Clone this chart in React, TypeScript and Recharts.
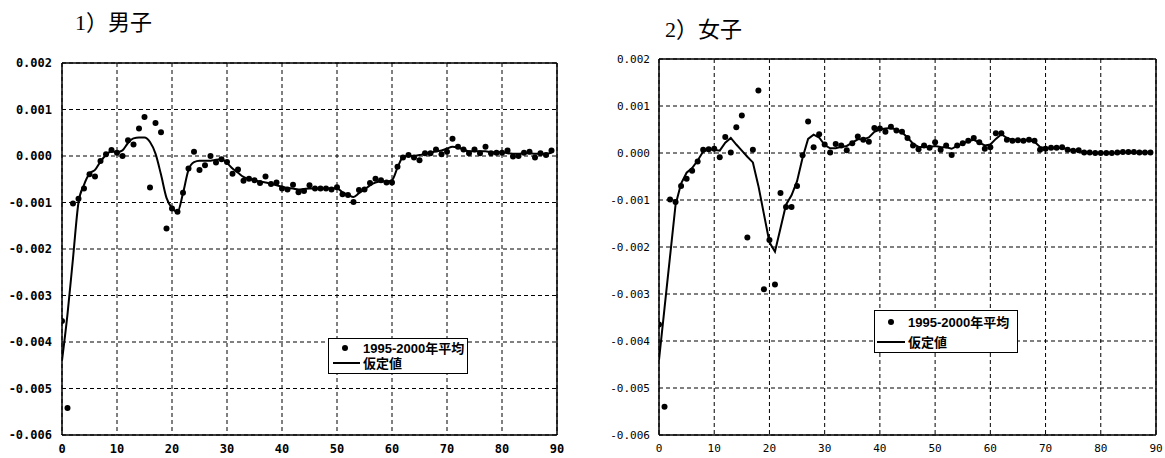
import React from 'react';
import {
  ComposedChart,
  Line,
  Scatter,
  XAxis,
  YAxis,
  CartesianGrid,
  ReferenceLine,
  Legend,
} from 'recharts';

const ages = [
  0, 1, 2, 3, 4, 5, 6, 7, 8, 9, 10, 11, 12, 13, 14, 15, 16, 17, 18, 19,
  20, 21, 22, 23, 24, 25, 26, 27, 28, 29, 30, 31, 32, 33, 34, 35, 36, 37, 38, 39,
  40, 41, 42, 43, 44, 45, 46, 47, 48, 49, 50, 51, 52, 53, 54, 55, 56, 57, 58, 59,
  60, 61, 62, 63, 64, 65, 66, 67, 68, 69, 70, 71, 72, 73, 74, 75, 76, 77, 78, 79,
  80, 81, 82, 83, 84, 85, 86, 87, 88, 89,
];

const maleDots = [
  -0.00355, -0.00542, -0.00102, -0.00092, -0.0007, -0.00039, -0.00044, -0.00011, 0.00004, 0.00013,
  0.00007, 0.0, 0.00034, 0.00025, 0.00059, 0.00084, -0.00068, 0.00071, 0.00051, -0.00156,
  -0.00113, -0.0012, -0.00079, -0.00027, 0.00009, -0.0003, -0.0002, 0.0, -0.00014, -0.00007,
  -0.00013, -0.00038, -0.00029, -0.00053, -0.00049, -0.00052, -0.00058, -0.00044, -0.0006, -0.00057,
  -0.0007, -0.00072, -0.00062, -0.00078, -0.00075, -0.00063, -0.0007, -0.0007, -0.0007, -0.00072,
  -0.00067, -0.00082, -0.00084, -0.00099, -0.00073, -0.00072, -0.00058, -0.00049, -0.00052, -0.00057,
  -0.00057, -0.00023, -0.00003, 0.00002, -0.00003, -0.00009, 0.00006, 0.00006, 0.00014, 0.00004,
  0.00009, 0.00037, 0.0002, 0.00014, 0.00006, 0.00014, 0.00006, 0.0002, 0.00006, 0.00007,
  0.00007, 0.00012, -0.00001, 0.0, 0.00007, 0.00009, -0.00003, 0.00006, 0.00002, 0.00012,
];

const maleLine = [
  -0.0044, -0.0034, -0.0022, -0.001, -0.00062, -0.00038, -0.0003, -0.00012, 0.00002, 0.0001,
  0.00008, 0.00012, 0.00028, 0.00038, 0.0004, 0.0004, 0.0003, 0.00005, -0.0004, -0.0009,
  -0.00112, -0.0012, -0.0008, -0.0003, -0.00013, -0.0001, -0.0001, -0.0001, -0.00008, -0.00007,
  -0.00015, -0.00027, -0.00036, -0.00045, -0.0005, -0.00052, -0.00055, -0.00057, -0.0006, -0.00063,
  -0.00066, -0.00069, -0.0007, -0.00072, -0.00071, -0.0007, -0.0007, -0.0007, -0.0007, -0.0007,
  -0.0007, -0.00078, -0.00083, -0.00088, -0.0008, -0.00072, -0.00063, -0.00057, -0.00055, -0.00055,
  -0.00052, -0.00025, -0.00002, 0.0, 0.0, 0.00002, 0.00005, 0.00007, 0.0001, 0.00012,
  0.00016, 0.0002, 0.00018, 0.00014, 0.0001, 0.0001, 0.0001, 0.0001, 0.00008, 0.00008,
  0.00008, 0.00006, 0.00005, 0.00005, 0.00006, 0.00006, 0.00005, 0.00005, 0.00005, 0.00007,
];

const femaleDots = [
  -0.00365, -0.0054, -0.00099, -0.00104, -0.0007, -0.00055, -0.00038, -0.00018, 0.00007, 0.00008,
  0.00009, -0.00009, 0.00034, 0.00001, 0.00055, 0.0008, -0.0018, 0.00007, 0.00133, -0.0029,
  -0.00185, -0.0028, -0.00085, -0.00115, -0.00115, -0.0007, -0.00005, 0.00067, 0.00012, 0.0004,
  0.00018, 0.00001, 0.00019, 0.00016, 0.00006, 0.00021, 0.00035, 0.00028, 0.00024, 0.00053,
  0.00052, 0.00045, 0.00056, 0.00048, 0.00045, 0.00032, 0.00016, 0.00008, 0.00016, 0.00011,
  0.00023, 0.00007, 0.00016, -0.00004, 0.00016, 0.00021, 0.00026, 0.00032, 0.00023, 0.00009,
  0.00012, 0.00042, 0.00042, 0.00028, 0.00026, 0.00027, 0.00026, 0.00028, 0.00026, 0.00007,
  0.00009, 0.00011, 0.00011, 0.00012, 0.00007, 0.00005, 0.00006, 0.00001, 0.00001, 0.0,
  0.0, 0.0, 0.0, 0.00001, 0.00002, 0.00002, 0.00002, 0.00001, 0.00001, 0.00001,
];

const femaleLine = [
  -0.0044, -0.0033, -0.0022, -0.0011, -0.00065, -0.00042, -0.00032, -0.00016, 0.00003, 0.00008,
  0.00007, 0.00005, 0.00022, 0.00032, 0.00018, 0.00005, -0.00008, -0.0002, -0.0007, -0.0013,
  -0.0019, -0.0021, -0.0016, -0.0011, -0.0009, -0.0006, -0.0001, 0.0003, 0.00039, 0.00033,
  0.00017, 0.0001, 0.0001, 0.00013, 0.00015, 0.00022, 0.00029, 0.00029, 0.00033, 0.00045,
  0.0005, 0.00052, 0.00053, 0.0005, 0.00044, 0.00033, 0.0002, 0.00013, 0.00013, 0.00013,
  0.00015, 0.00013, 0.00012, 0.00009, 0.00015, 0.0002, 0.00025, 0.00028, 0.00022, 0.00016,
  0.00018, 0.0003, 0.0004, 0.00032, 0.00028, 0.00027, 0.00027, 0.00027, 0.00024, 0.00013,
  0.0001, 0.0001, 0.0001, 0.00011, 0.00008, 0.00005, 0.00004, 0.00001, 0.0, 0.0,
  0.0, 0.0, 0.0, 0.0, 0.00001, 0.00001, 0.00001, 0.00001, 0.00001, 0.00001,
];

const xTicks = [0, 10, 20, 30, 40, 50, 60, 70, 80, 90];
const yTicks = [0.002, 0.001, 0, -0.001, -0.002, -0.003, -0.004, -0.005, -0.006];

const dotLabel = '1995-2000年平均';
const lineLabel = '仮定値';

const maleTitle = '1）男子';
const femaleTitle = '2）女子';

const buildRows = (dots: number[], line: number[]) =>
  ages.map((age, i) => ({ age, dot: dots[i], line: line[i] }));

const Dot = (props: any) => {
  const { cx, cy } = props;
  if (cx == null || cy == null) return null;
  return <circle cx={cx} cy={cy} r={3} fill="#000" />;
};

type LegendBoxProps = {
  w: number;
  h: number;
  row1: number;
  row2: number;
  dotX: number;
  lineX1: number;
  lineX2: number;
  textX: number;
};

const LegendBox = ({ w, h, row1, row2, dotX, lineX1, lineX2, textX }: LegendBoxProps) => (
  <div
    style={{
      position: 'relative',
      width: w,
      height: h,
      border: '1px solid #000',
      boxSizing: 'border-box',
      background: '#fff',
      fontFamily: "'Liberation Sans', 'Noto Sans CJK JP', sans-serif",
      fontWeight: 700,
      fontSize: 13,
      color: '#000',
    }}
  >
    <svg width={w} height={h} style={{ position: 'absolute', left: -1, top: -1 }}>
      <circle cx={dotX} cy={row1} r={3} fill="#000" />
      <line x1={lineX1} x2={lineX2} y1={row2} y2={row2} stroke="#000" strokeWidth={2} />
    </svg>
    <div style={{ position: 'absolute', left: textX - 1, top: row1 - 8.5, lineHeight: '15px', whiteSpace: 'nowrap' }}>
      {dotLabel}
    </div>
    <div style={{ position: 'absolute', left: textX - 1, top: row2 - 8.5, lineHeight: '15px', whiteSpace: 'nowrap' }}>
      {lineLabel}
    </div>
  </div>
);

type PanelProps = {
  rows: { age: number; dot: number; line: number }[];
  width: number;
  height: number;
  margin: { top: number; right: number; bottom: number; left: number };
  yAxisWidth: number;
  tickFont: any;
  yTickMargin: number;
  lineType: 'linear' | 'monotone';
  legendPos: { left: number; top: number };
  legendBox: LegendBoxProps;
};

const Panel = ({
  rows,
  width,
  height,
  margin,
  yAxisWidth,
  tickFont,
  yTickMargin,
  lineType,
  legendPos,
  legendBox,
}: PanelProps) => (
  <ComposedChart width={width} height={height} data={rows} margin={margin}>
    <CartesianGrid stroke="#000" strokeWidth={1} strokeDasharray="4 3" />
    <XAxis
      dataKey="age"
      type="number"
      domain={[0, 90]}
      ticks={xTicks}
      interval={0}
      tickLine={false}
      axisLine={{ stroke: '#000', strokeWidth: 1.5 }}
      tick={{ ...tickFont, fill: '#000' }}
      tickMargin={3}
      height={22}
      allowDataOverflow
    />
    <YAxis
      type="number"
      domain={[-0.006, 0.002]}
      ticks={yTicks}
      interval={0}
      tickLine={false}
      axisLine={{ stroke: '#000', strokeWidth: 1.5 }}
      tick={{ ...tickFont, fill: '#000' }}
      tickMargin={yTickMargin}
      tickFormatter={(v: number) => v.toFixed(3)}
      width={yAxisWidth}
      allowDataOverflow
    />
    <ReferenceLine y={0.002} stroke="#000" strokeWidth={1.5} />
    <ReferenceLine x={90} stroke="#000" strokeWidth={1.5} />
    <Scatter dataKey="dot" shape={<Dot />} isAnimationActive={false} legendType="circle" />
    <Line
      dataKey="line"
      type={lineType}
      stroke="#000"
      strokeWidth={2}
      dot={false}
      activeDot={false}
      isAnimationActive={false}
    />
    <Legend
      layout="vertical"
      align="center"
      verticalAlign="middle"
      wrapperStyle={{ left: legendPos.left, top: legendPos.top, width: legendBox.w, height: legendBox.h }}
      content={() => <LegendBox {...legendBox} />}
    />
  </ComposedChart>
);

const titleStyle: React.CSSProperties = {
  position: 'absolute',
  fontFamily: "'Liberation Serif', 'Noto Sans CJK JP', serif",
  fontSize: 22,
  lineHeight: '22px',
  color: '#000',
  whiteSpace: 'nowrap',
};

export default function App() {
  const maleRows = buildRows(maleDots, maleLine);
  const femaleRows = buildRows(femaleDots, femaleLine);
  return (
    <div style={{ position: 'absolute', left: 0, top: 0, width: 1165, height: 458, background: '#fff', overflow: 'hidden' }}>
      <div style={{ ...titleStyle, left: 75, top: 12 }}>{maleTitle}</div>
      <div style={{ ...titleStyle, left: 665, top: 19 }}>{femaleTitle}</div>
      <div style={{ position: 'absolute', left: 0, top: 0 }}>
        <Panel
          rows={maleRows}
          width={580}
          height={458}
          margin={{ top: 63, right: 23, bottom: 1, left: 12 }}
          yAxisWidth={50}
          tickFont={{ fontFamily: "'DejaVu Sans Mono', monospace", fontWeight: 700, fontSize: 12 }}
          yTickMargin={4}
          lineType="monotone"
          legendPos={{ left: 328, top: 338 }}
          legendBox={{ w: 140, h: 36, row1: 10, row2: 25, dotX: 17, lineX1: 5, lineX2: 32, textX: 35 }}
        />
      </div>
      <div style={{ position: 'absolute', left: 580, top: 0 }}>
        <Panel
          rows={femaleRows}
          width={585}
          height={458}
          margin={{ top: 59, right: 9, bottom: 1, left: 29 }}
          yAxisWidth={50}
          tickFont={{ fontFamily: "'DejaVu Sans Mono', monospace", fontWeight: 400, fontSize: 11 }}
          yTickMargin={3}
          lineType="linear"
          legendPos={{ left: 294, top: 310 }}
          legendBox={{ w: 144, h: 43, row1: 12, row2: 32, dotX: 17, lineX1: 3, lineX2: 31, textX: 34 }}
        />
      </div>
    </div>
  );
}
